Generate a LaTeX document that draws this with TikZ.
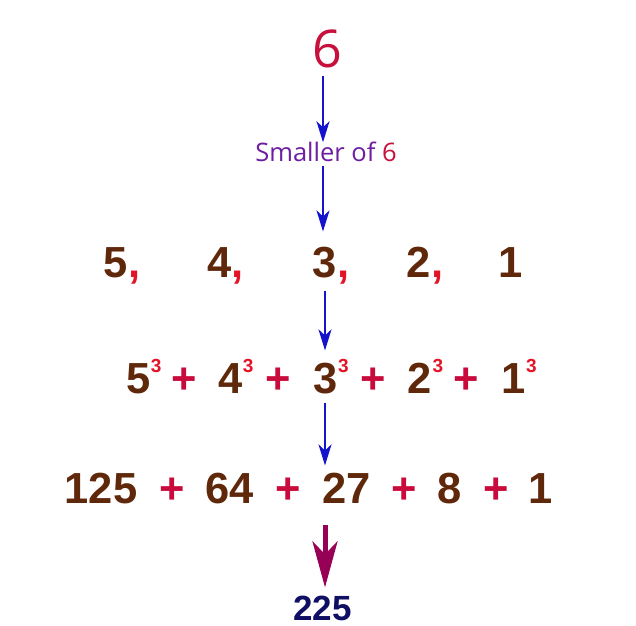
\documentclass[tikz,border=0pt]{standalone}
\usepackage{fontspec}
\setmainfont{Liberation Sans}
\newfontfamily\opensans{Open Sans}
\usetikzlibrary{arrows.meta,calc}
\definecolor{crim}{RGB}{200,16,60}
\definecolor{purp}{RGB}{110,30,160}
\definecolor{brn}{RGB}{96,40,10}
\definecolor{brightred}{RGB}{228,20,40}
\definecolor{plusred}{RGB}{200,10,60}
\definecolor{arrblue}{RGB}{20,20,205}
\definecolor{maroon}{RGB}{150,0,85}
\definecolor{navy}{RGB}{15,15,100}
\begin{document}
\begin{tikzpicture}[x=1bp,y=-1bp,
  every node/.style={inner sep=0pt, anchor=base},
  num/.style={font=\fontsize{43.5bp}{43.5bp}\selectfont\bfseries, text=brn},
  plus/.style={font=\fontsize{43.5bp}{43.5bp}\selectfont\bfseries, text=plusred},
  comma/.style={font=\fontsize{43.5bp}{43.5bp}\selectfont\bfseries, text=brightred, anchor=base west},
  sup/.style={font=\fontsize{19bp}{19bp}\selectfont\bfseries, text=brightred, anchor=base west},
  bluearrow/.style={draw=arrblue, line width=2.4bp, -{Stealth[length=21bp,width=13bp,inset=6bp]}},
  bigarrow/.style={draw=maroon, fill=maroon, line width=5bp, -{Stealth[length=46bp,width=25bp,inset=13bp]}}]
\useasboundingbox (0,0) rectangle (636,626);
\fill[white] (0,0) rectangle (636,626);
\coordinate (axA) at (323,0);
\coordinate (axB) at (325,0);

% top
\node[font=\opensans\fontsize{52bp}{52bp}\selectfont, text=crim] (six) at (327.5,68) {6};
\node[font=\opensans\fontsize{25.5bp}{25.5bp}\selectfont, text=purp] (smaller) at (326,162) {Smaller of \textcolor{crim}{6}};

% row 1
\node[num] (a5) at (116,277) {5};
\node[num] (a4) at (219.5,277) {4};
\node[num] (a3) at (325,277) {3};
\node[num] (a2) at (418.5,277) {2};
\node[num] (a1) at (511,277) {1};
\node[comma] (ca5) at (a5.base east) {,};
\node[comma] (ca4) at (a4.base east) {,};
\node[comma] (ca3) at (a3.base east) {,};
\node[comma] (ca2) at (a2.base east) {,};

% row 2
\node[num] (b5) at (138.5,393) {5};
\node[num] (b4) at (230.5,393) {4};
\node[num] (b3) at (325.5,393) {3};
\node[num] (b2) at (420,393) {2};
\node[num] (b1) at (513.5,393) {1};
\node[sup] (sb5) at ($(b5.base east)+(0,-21)$) {3};
\node[sup] (sb4) at ($(b4.base east)+(0,-21)$) {3};
\node[sup] (sb3) at ($(b3.base east)+(0,-21)$) {3};
\node[sup] (sb2) at ($(b2.base east)+(0,-21)$) {3};
\node[sup] (sb1) at ($(b1.base east)+(0,-21)$) {3};
\node[plus] (pb1) at (184,393) {+};
\node[plus] (pb2) at (278,393) {+};
\node[plus] (pb3) at (373,393) {+};
\node[plus] (pb4) at (466,393) {+};

% row 3
\node[num] (c125) at (101,503) {125};
\node[num] (c64) at (230,503) {64};
\node[num] (c27) at (346.5,503) {27};
\node[num] (c8) at (450,503) {8};
\node[num] (c1) at (541,503) {1};
\node[plus] (pc1) at (172,503) {+};
\node[plus] (pc2) at (288,503) {+};
\node[plus] (pc3) at (404,503) {+};
\node[plus] (pc4) at (496,503) {+};

% result
\node[font=\fontsize{35bp}{35bp}\selectfont\bfseries, text=navy] (res) at (322.5,620) {225};

% arrows
\draw[bluearrow, shorten <=7bp, shorten >=0bp] (six.south -| axA) -- (smaller.north -| axA);
\draw[bluearrow, shorten <=4bp, shorten >=15bp] (smaller.south -| axA) -- (a3.north -| axA);
\draw[bluearrow, shorten <=13bp, shorten >=12bp] (a3.south -| axB) -- (b3.north -| axB);
\draw[bluearrow, shorten <=9bp, shorten >=7bp] (b3.south -| axB) -- (c27.north -| axB);
\draw[bigarrow, shorten <=22bp, shorten >=8bp] (c27.south -| axB) -- (res.north -| axB);
\end{tikzpicture}
\end{document}
